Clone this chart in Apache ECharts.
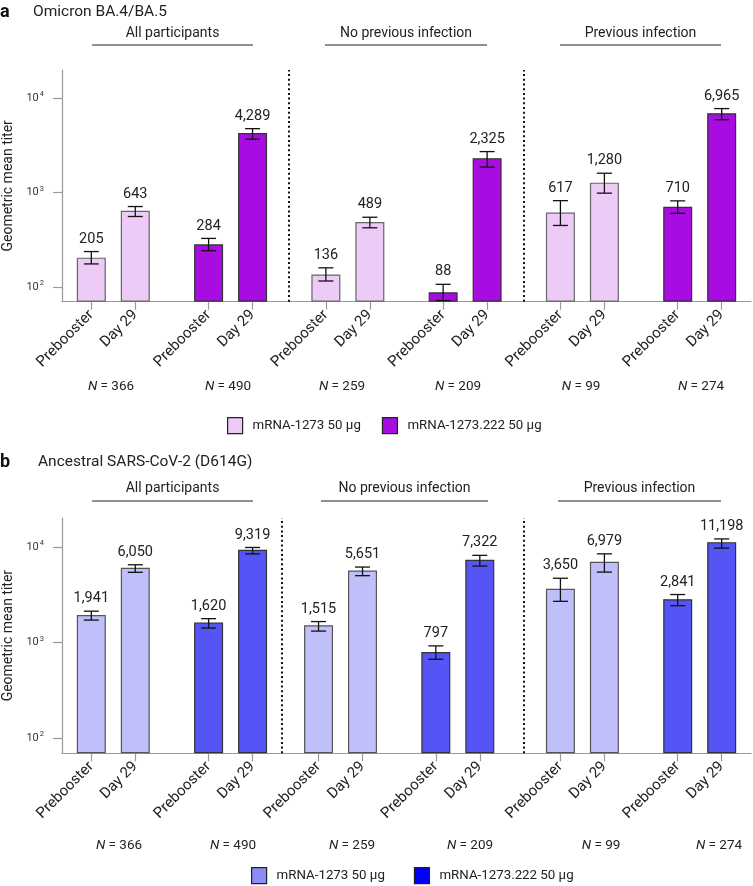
<!DOCTYPE html>
<html><head><meta charset="utf-8">
<script src="https://cdn.jsdelivr.net/npm/echarts@6/dist/echarts.min.js"></script>
<style>html,body{margin:0;padding:0;background:#fff}#c{width:753px;height:886px}</style>
</head><body><div id="c"></div>
<script>
// ---------- data ----------
const panelTitles = ['Omicron BA.4/BA.5', 'Ancestral SARS-CoV-2 (D614G)'];
const groups = ['All participants', 'No previous infection', 'Previous infection'];
const timepoints = ['Prebooster', 'Day 29'];
const vaccines = ['mRNA-1273 50 μg', 'mRNA-1273.222 50 μg'];
const nLabels = [366, 490, 259, 209, 99, 274];
// bar order: group x vaccine x timepoint
const barVaccine = [0, 0, 1, 1, 0, 0, 1, 1, 0, 0, 1, 1];
const barTime = [0, 1, 0, 1, 0, 1, 0, 1, 0, 1, 0, 1];
const omicronGMT  = [205, 643, 284, 4289, 136, 489, 88, 2325, 617, 1280, 710, 6965];
const omicronLow  = [176, 560, 243, 3700, 116, 425, 72, 1870, 450, 990, 605, 5950];
const omicronHigh = [238, 714, 328, 4780, 160, 550, 107, 2730, 825, 1610, 820, 7800];
const ancestralGMT  = [1941, 6050, 1620, 9319, 1515, 5651, 797, 7322, 3650, 6979, 2841, 11198];
const ancestralLow  = [1720, 5420, 1420, 8450, 1320, 5000, 670, 6300, 2700, 5450, 2430, 9700];
const ancestralHigh = [2130, 6500, 1780, 9850, 1660, 6150, 925, 8150, 4700, 8450, 3180, 12100];
const yTicks = [100, 1000, 10000];

// ---------- layout / style ----------
const FONT = 'Roboto';
const nSlots = 95;
const slots = [
  [4, 10, 20, 26, 36, 42, 52, 58, 68, 74, 84, 90],
  [4, 10, 20, 26, 35, 41, 51, 57, 68, 74, 84, 90]
];
const dividerSlots = [[31, 63], [30, 63]];
const grids = [
  { left: 62, right: 2, top: 70, height: 231.7, outerBoundsMode: 'none', containLabel: false },
  { left: 62, right: 2, top: 518, height: 235.3, outerBoundsMode: 'none', containLabel: false }
];
const barColors = [['#ECCBF6', '#A70CE0'], ['#BFBFFA', '#5555F5']];
const barBorders = [['#666', '#333'], ['#555', '#333']];
const legendColors = [['#ECCBF6', '#A70CE0'], ['#8C8CF7', '#0000FF']];
const legendPos = [{ left: 227, top: 417 }, { left: 251, top: 867 }];
const titleY = [13, 463];
const titleX = [33, 38];
const groupTitleY = [33, 488];
const underlineY = [45, 501];
const underlines = [[[92, 253], [325, 487], [560, 721]], [[92, 253], [321, 488], [558, 721]]];
const nLabelX = [[111, 228, 342, 458, 581, 701], [119, 233, 352, 470, 601, 719]];
const nLabelY = [387, 846];

const gmt = [omicronGMT, ancestralGMT];
const low = [omicronLow, ancestralLow];
const high = [omicronHigh, ancestralHigh];

function categoriesFor(p) {
  const c = new Array(nSlots).fill('');
  slots[p].forEach((s, i) => { c[s] = timepoints[barTime[i]]; });
  return c;
}

const xAxes = [], yAxes = [], series = [], legends = [];
for (let p = 0; p < 2; p++) {
  xAxes.push({
    type: 'category', gridIndex: p, data: categoriesFor(p), boundaryGap: false,
    axisLine: { lineStyle: { color: '#999', width: 1.2 } },
    axisTick: { length: 8, lineStyle: { color: '#999', width: 1.2 }, interval: (i, v) => v !== '' },
    axisLabel: { interval: (i, v) => v !== '', rotate: 45, margin: 11, fontSize: 15, color: '#222', fontFamily: FONT }
  });
  yAxes.push({
    type: 'log', logBase: 10, gridIndex: p, min: 70, max: 20000, startValue: 70,
    name: 'Geometric mean titer', nameLocation: 'middle', nameGap: 43,
    nameTextStyle: { fontSize: 14, color: '#222', fontFamily: FONT },
    axisLine: { show: true, lineStyle: { color: '#999', width: 1.2 } },
    axisTick: { show: true, length: 9, customValues: yTicks, lineStyle: { color: '#999', width: 1.2 } },
    splitLine: { show: false },
    axisLabel: {
      customValues: yTicks, margin: 18, color: '#333', fontSize: 11, fontFamily: FONT,
      formatter: v => '{b|10}{s|' + Math.round(Math.log10(v)) + '}',
      rich: {
        b: { fontSize: 11, color: '#333', fontFamily: FONT, verticalAlign: 'middle' },
        s: { fontSize: 7.5, color: '#333', fontFamily: FONT, verticalAlign: 'bottom', padding: [0, 0, 8, 1] }
      }
    }
  });
  for (let v = 0; v < 2; v++) {
    const data = [];
    slots[p].forEach((s, i) => { if (barVaccine[i] === v) data.push([s, gmt[p][i]]); });
    series.push({
      type: 'bar', name: vaccines[v], xAxisIndex: p, yAxisIndex: p,
      barWidth: 29, barGap: '-100%', clip: true, data,
      itemStyle: { color: barColors[p][v], borderColor: barBorders[p][v], borderWidth: 1.2 },
      markLine: v === 0 ? {
        silent: true, symbol: 'none', label: { show: false },
        lineStyle: { color: '#111', width: 2, type: [2, 2.7] },
        data: dividerSlots[p].map(d => ({ xAxis: d }))
      } : undefined
    });
  }
  series.push({
    type: 'custom', xAxisIndex: p, yAxisIndex: p, z: 5,
    data: slots[p].map((s, i) => [s, gmt[p][i], low[p][i], high[p][i]]),
    encode: { x: 0, y: [2, 3] },
    renderItem: (params, api) => {
      const x = api.value(0);
      const top = api.coord([x, api.value(3)]);
      const bot = api.coord([x, api.value(2)]);
      const hw = 7.5;
      const st = { stroke: '#111', lineWidth: 1.3 };
      return {
        type: 'group', children: [
          { type: 'line', shape: { x1: top[0], y1: top[1], x2: bot[0], y2: bot[1] }, style: st },
          { type: 'line', shape: { x1: top[0] - hw, y1: top[1], x2: top[0] + hw, y2: top[1] }, style: st },
          { type: 'line', shape: { x1: bot[0] - hw, y1: bot[1], x2: bot[0] + hw, y2: bot[1] }, style: st },
          { type: 'text', x: top[0], y: top[1] - 5, style: {
              text: api.value(1).toLocaleString('en-US'), align: 'center', verticalAlign: 'bottom',
              fill: '#222', fontSize: 14.5, fontFamily: FONT } }
        ]
      };
    }
  });
  legends.push({
    left: legendPos[p].left, top: legendPos[p].top, orient: 'horizontal', icon: 'rect', padding: 0,
    itemWidth: 15, itemHeight: 16, itemGap: p === 0 ? 21 : 29, selectedMode: false,
    textStyle: { fontSize: 13.3, color: '#222', fontFamily: FONT, padding: [0, 0, 0, 5] },
    data: vaccines.map((name, v) => ({
      name, itemStyle: { color: legendColors[p][v], borderColor: '#222', borderWidth: 1.2 }
    }))
  });
}

// annotations
const graphic = [];
for (let p = 0; p < 2; p++) {
  graphic.push({ type: 'text', left: 0, top: titleY[p] - 10, style: { text: p === 0 ? 'a' : 'b', fontSize: 18, fontWeight: 'bold', fill: '#111', fontFamily: FONT } });
  graphic.push({ type: 'text', left: titleX[p], top: titleY[p] - 9, style: { text: panelTitles[p], fontSize: 15.5, fill: '#222', fontFamily: FONT } });
  groups.forEach((g, gi) => {
    const [x1, x2] = underlines[p][gi];
    graphic.push({ type: 'line', shape: { x1, y1: underlineY[p], x2, y2: underlineY[p] }, style: { stroke: '#222', lineWidth: 1.2 } });
    graphic.push({ type: 'text', x: (x1 + x2) / 2, y: groupTitleY[p], style: { text: g, align: 'center', verticalAlign: 'middle', fontSize: 14, fill: '#222', fontFamily: FONT } });
  });
  nLabels.forEach((n, k) => {
    graphic.push({ type: 'text', x: nLabelX[p][k], y: nLabelY[p], style: {
      text: '{i|N} = ' + n, align: 'center', verticalAlign: 'middle', fontSize: 13.5, fill: '#222', fontFamily: FONT,
      rich: { i: { fontStyle: 'italic', fontSize: 13.5, fill: '#222', fontFamily: FONT } } } });
  });
}

const chart = echarts.init(document.getElementById('c'), null, { renderer: 'canvas' });
chart.setOption({
  animation: false,
  backgroundColor: '#fff',
  grid: grids,
  xAxis: xAxes,
  yAxis: yAxes,
  legend: legends,
  series,
  graphic
});
</script></body></html>
